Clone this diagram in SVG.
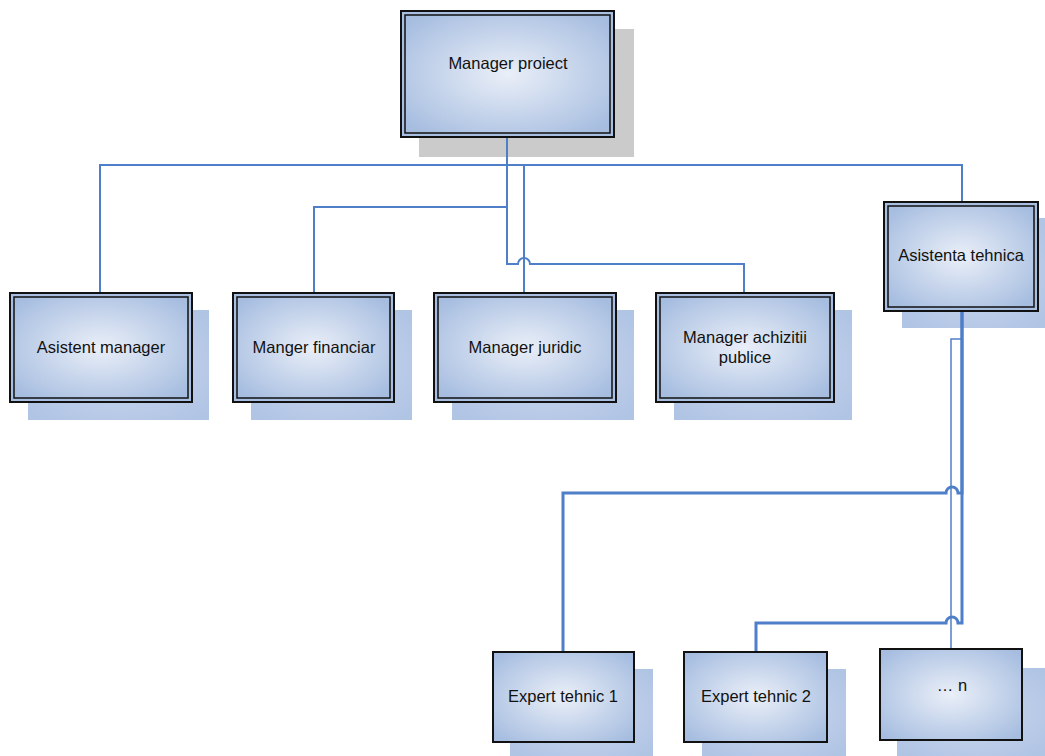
<svg xmlns="http://www.w3.org/2000/svg" width="1045" height="756" viewBox="0 0 1045 756">
<defs>
<radialGradient id="g" cx="50%" cy="50%" r="65%">
<stop offset="0" stop-color="#eaeff8"/>
<stop offset="1" stop-color="#a6bde0"/>
</radialGradient>
<radialGradient id="sg" cx="50%" cy="50%" r="65%">
<stop offset="0" stop-color="#cbd8ee"/>
<stop offset="1" stop-color="#b0c4e4"/>
</radialGradient>
<style>
.sh{fill:url(#sg)}
.shg{fill:#cbcbcb}
.o{fill:#a8bfe2;stroke:#111;stroke-width:2}
.i{fill:url(#g);stroke:#111;stroke-width:1.5}
.s{fill:url(#g);stroke:#111;stroke-width:2}
.t{font-family:"Liberation Sans",Arial,sans-serif;font-size:16.5px;fill:#111;text-anchor:middle}
.c{fill:none;stroke:#4f7fc8;stroke-width:2}
.ct{fill:none;stroke:#4f7fc8;stroke-width:3}
.cn{fill:none;stroke:#4f7fc8;stroke-width:1.5}
</style>
</defs>
<rect width="1045" height="756" fill="#fff"/>
<g id="shadows">
<rect class="shg" x="419" y="29" width="215" height="128"/>
<rect class="sh" x="28" y="310" width="181" height="110"/>
<rect class="sh" x="251" y="310" width="161" height="110"/>
<rect class="sh" x="452" y="310" width="182" height="110"/>
<rect class="sh" x="674" y="310" width="178" height="110"/>
<rect class="sh" x="902" y="218" width="143" height="110"/>
<rect class="sh" x="510" y="669" width="143" height="87"/>
<rect class="sh" x="702" y="669" width="144" height="87"/>
<rect class="sh" x="897" y="668" width="148" height="88"/>
</g>
<g id="connectors">
<path class="c" d="M507,137 V264 H518 A6,6 0 0 1 530,264 H744 V293"/>
<path class="c" d="M100,293 V165 H962 V202"/>
<path class="c" d="M314,293 V207 H507"/>
<path class="c" d="M524,165 V293"/>
<path class="ct" d="M962,311 V493 H958 A6,6 0 0 0 946,493 H563 V652"/>
<path class="ct" d="M962,311 V623 H958 A6,6 0 0 0 946,623 H756 V652"/>
<path class="cn" d="M962,311 V339 H951 V649"/>
</g>
<g id="manager-proiect">
<rect class="o" x="401" y="11" width="213" height="126"/>
<rect class="i" x="405" y="15" width="205" height="118"/>
<text class="t" x="508" y="69">Manager proiect</text>
</g>
<g id="asistent-manager">
<rect class="o" x="10" y="293" width="182" height="109"/>
<rect class="i" x="14" y="297" width="174" height="101"/>
<text class="t" x="101" y="353">Asistent manager</text>
</g>
<g id="manger-financiar">
<rect class="o" x="233" y="293" width="161" height="109"/>
<rect class="i" x="237" y="297" width="153" height="101"/>
<text class="t" x="314" y="353">Manger financiar</text>
</g>
<g id="manager-juridic">
<rect class="o" x="434" y="293" width="182" height="109"/>
<rect class="i" x="438" y="297" width="174" height="101"/>
<text class="t" x="525" y="353">Manager juridic</text>
</g>
<g id="manager-achizitii">
<rect class="o" x="656" y="293" width="178" height="109"/>
<rect class="i" x="660" y="297" width="170" height="101"/>
<text class="t" x="745" y="343">Manager achizitii</text>
<text class="t" x="745" y="363">publice</text>
</g>
<g id="asistenta-tehnica">
<rect class="o" x="884" y="202" width="154" height="109"/>
<rect class="i" x="888" y="206" width="146" height="101"/>
<text class="t" x="961" y="261">Asistenta tehnica</text>
</g>
<g id="expert-1">
<rect class="s" x="493" y="652" width="141" height="90"/>
<text class="t" x="563" y="702">Expert tehnic 1</text>
</g>
<g id="expert-2">
<rect class="s" x="684" y="652" width="143" height="90"/>
<text class="t" x="756" y="702">Expert tehnic 2</text>
</g>
<g id="n">
<rect class="s" x="880" y="649" width="142" height="91"/>
<text class="t" x="952" y="691">… n</text>
</g>
</svg>
